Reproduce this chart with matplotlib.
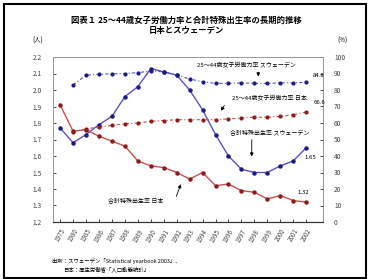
import numpy as np
import matplotlib.pyplot as plt
from matplotlib.patches import Rectangle

plt.rcParams["font.family"] = ["Noto Sans CJK JP", "DejaVu Sans"]

# -------------------------
# data
# -------------------------
years = ["1975", "1980", "1985", "1986", "1987", "1988", "1989", "1990", "1991", "1992",
         "1993", "1994", "1995", "1996", "1997", "1998", "1999", "2000", "2001", "2002"]

sweden_tfr = [1.77, 1.68, 1.73, 1.79, 1.84, 1.96, 2.02, 2.13, 2.11, 2.09,
              2.00, 1.88, 1.73, 1.60, 1.52, 1.50, 1.50, 1.54, 1.57, 1.65]
japan_tfr = [1.91, 1.75, 1.76, 1.72, 1.69, 1.66, 1.57, 1.54, 1.53, 1.50,
             1.46, 1.50, 1.42, 1.43, 1.39, 1.38, 1.34, 1.36, 1.33, 1.32]

# 25-44 female labour force participation (%), no value for 1975
sweden_lfp = [np.nan, 83.0, 89.0, 89.5, 89.8, 90.0, 90.5, 91.5, 91.0, 89.0,
              86.7, 85.0, 84.0, 84.0, 84.3, 84.0, 84.0, 84.3, 84.3, 84.8]
japan_lfp = [np.nan, 54.5, 56.5, 57.5, 58.5, 59.5, 60.0, 61.0, 61.5, 62.0,
             62.0, 62.0, 62.0, 62.5, 63.0, 63.5, 63.5, 64.0, 65.0, 66.6]

left_ticks = [1.2, 1.3, 1.4, 1.5, 1.6, 1.7, 1.8, 1.9, 2.0, 2.1, 2.2]
right_ticks = [0, 10, 20, 30, 40, 50, 60, 70, 80, 90, 100]

BLUE = "#5a52cc"
BLUE_DARK = "#1c1c80"
RED = "#c85050"
RED_DARK = "#8a1c1c"


def main():
    fig = plt.figure(figsize=(3.72, 2.79), dpi=100)
    W, H = 372, 279

    ax = fig.add_axes([53 / W, 1 - 222 / H, 270 / W, 165 / H])
    ax2 = ax.twinx()
    x = np.arange(len(years))

    # fertility (left axis)
    ax.plot(x, sweden_tfr, color=BLUE, lw=1.0, marker="o", ms=2.2,
            mfc=BLUE_DARK, mec=BLUE_DARK, zorder=3)
    ax.plot(x, japan_tfr, color=RED, lw=1.0, marker="o", ms=2.2,
            mfc=RED_DARK, mec=RED_DARK, zorder=3)

    # labour force (right axis)
    ax2.plot(x, sweden_lfp, color=BLUE, lw=0.8, ls=(0, (3, 2, 1, 2)), marker="o",
             ms=2.0, mfc=BLUE_DARK, mec=BLUE_DARK)
    ax2.plot(x, japan_lfp, color=RED, lw=0.8, ls=(0, (3, 2, 1, 2)), marker="o",
             ms=2.0, mfc=RED_DARK, mec=RED_DARK)

    ax.set_xlim(-0.55, 20.3)
    ax.set_ylim(1.2, 2.2)
    ax2.set_ylim(0, 100)

    ax.set_xticks(x)
    ax.set_xticklabels(years, rotation=60, ha="center", fontsize=4.5, color="#444444")
    ax.set_yticks(left_ticks)
    ax.set_yticklabels([f"{v:.1f}" for v in left_ticks], fontsize=4.8, color="#444444")
    ax2.set_yticks(right_ticks)
    ax2.set_yticklabels([str(v) for v in right_ticks], fontsize=4.8, color="#444444")

    ax.tick_params(axis="y", direction="in", length=2, width=0.5, pad=8)
    ax.tick_params(axis="x", direction="in", length=2, width=0.5, pad=4)
    ax2.tick_params(axis="y", direction="in", length=2, width=0.5, pad=8)
    for a in (ax, ax2):
        for side in ("top", "left", "right"):
            a.spines[side].set_color("#999999")
            a.spines[side].set_linewidth(0.6)
        a.spines["bottom"].set_color("#333333")
        a.spines["bottom"].set_linewidth(0.8)

    # annotations
    arrow = dict(arrowstyle="-|>", color="black", lw=0.6, mutation_scale=5)
    fs = 4.3
    ax2.text(10.6, 95, "25～44歳女子労働力率 スウェーデン", fontsize=fs, ha="left", va="center")
    ax2.annotate("", xy=(15.3, 86.5), xytext=(15.3, 92.5), arrowprops=arrow)
    ax2.text(13.3, 75, "25～44歳女子労働力率 日本", fontsize=fs, ha="left", va="center")
    ax2.annotate("", xy=(12.3, 66), xytext=(12.8, 72), arrowprops=arrow)
    ax2.text(13.1, 54.5, "合計特殊出生率 スウェーデン", fontsize=fs, ha="left", va="center")
    ax2.annotate("", xy=(14.8, 38), xytext=(14.8, 51.5), arrowprops=arrow)
    ax.text(3.7, 1.33, "合計特殊出生率 日本", fontsize=fs, ha="left", va="center")
    ax.annotate("", xy=(9.4, 1.445), xytext=(8.9, 1.34), arrowprops=arrow)

    ax2.text(19.5, sweden_lfp[-1] + 4, f"{sweden_lfp[-1]:.1f}", fontsize=fs, ha="left", va="center")
    ax2.text(19.6, japan_lfp[-1] + 6, f"{japan_lfp[-1]:.1f}", fontsize=fs, ha="left", va="center")
    ax.text(19.3, sweden_tfr[-1] - 0.06, f"{sweden_tfr[-1]:.2f}", fontsize=fs, ha="center", va="center")
    ax.text(18.8, japan_tfr[-1] + 0.06, f"{japan_tfr[-1]:.2f}", fontsize=fs, ha="center", va="center")

    # title, units, source
    fig.text(186 / W, 1 - 20 / H, "図表１ 25～44歳女子労働力率と合計特殊出生率の長期的推移",
             fontsize=6.0, fontweight="bold", ha="center", va="center")
    fig.text(186 / W, 1 - 31 / H, "日本とスウェーデン",
             fontsize=6.0, fontweight="bold", ha="center", va="center")
    fig.text(38 / W, 1 - 41 / H, "(人)", fontsize=4.5, ha="center", va="center")
    fig.text(343 / W, 1 - 41 / H, "(%)", fontsize=4.5, ha="center", va="center")
    fig.text(52 / W, 1 - 261 / H, "出所：スウェーデン「Statistical yearbook 2003」、",
             fontsize=3.9, ha="left", va="center")
    fig.text(63 / W, 1 - 269 / H, "日本：厚生労働省「人口動態統計」",
             fontsize=3.9, ha="left", va="center")

    # outer frame
    fig.patches.append(Rectangle((4 / W, 1 / H), 362 / W, 274 / H, transform=fig.transFigure,
                                 fill=False, edgecolor="black", lw=1.5))

    fig.savefig("out.png", dpi=100)
    plt.close(fig)


if __name__ == "__main__":
    main()
